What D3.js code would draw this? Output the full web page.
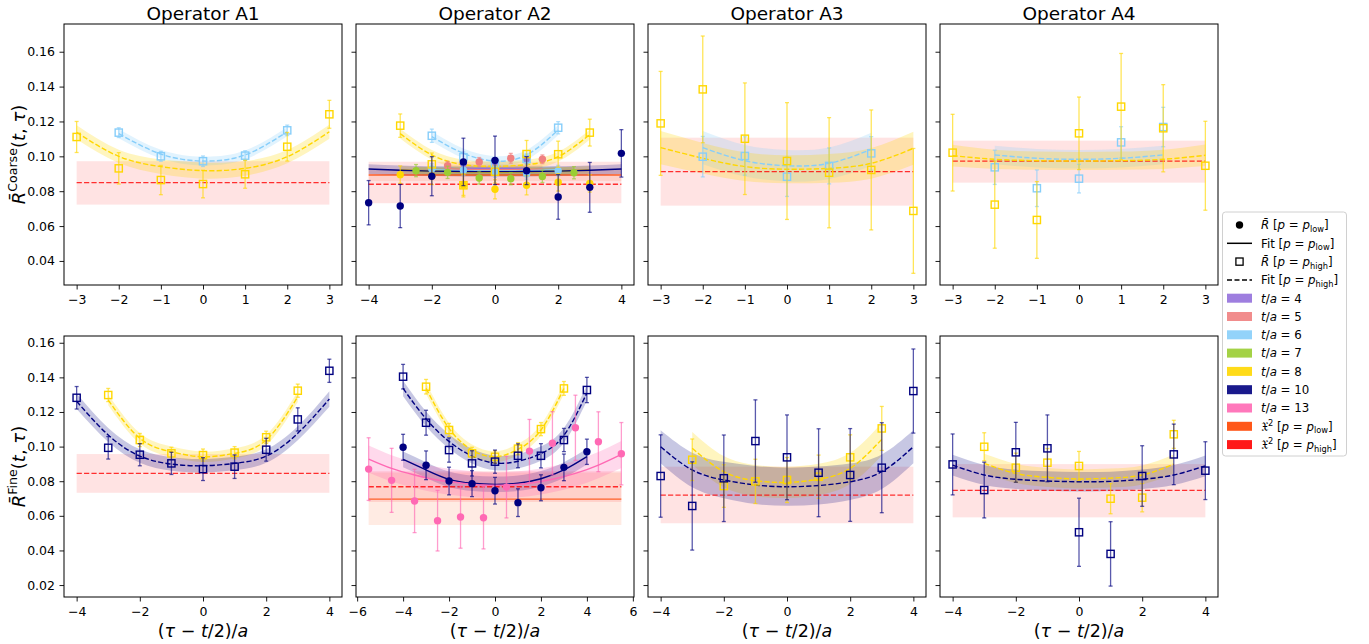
<!DOCTYPE html>
<html>
<head>
<meta charset="utf-8">
<script src="https://cdn.jsdelivr.net/npm/d3@7"></script>
<style>
  body { margin: 0; background: #fff; }
  text { font-family: "DejaVu Sans", sans-serif; fill: #000; }
</style>
</head>
<body>
<script>
// ---------------- τ grids ((τ - t/2)/a) ----------------
const tau1  = [-1, 0, 1];
const tau2  = [-2, -1, 0, 1, 2];
const tau3  = [-3, -2, -1, 0, 1, 2, 3];
const tau4  = [-4, -3, -2, -1, 0, 1, 2, 3, 4];
const tauH1 = [-1.5, -0.5, 0.5, 1.5];
const tauH2 = [-2.5, -1.5, -0.5, 0.5, 1.5, 2.5];
const tauH5 = [-5.5, -4.5, -3.5, -2.5, -1.5, -0.5, 0.5, 1.5, 2.5, 3.5, 4.5, 5.5];

// ---------------- tick labels & titles ----------------
const operators    = ["Operator A1", "Operator A2", "Operator A3", "Operator A4"];
const xTicksUnit3  = [-3, -2, -1, 0, 1, 2, 3];
const xTicksEven4  = [-4, -2, 0, 2, 4];
const xTicksEven6  = [-6, -4, -2, 0, 2, 4, 6];
const yTicksCoarse = [0.04, 0.06, 0.08, 0.10, 0.12, 0.14, 0.16];
const yTicksFine   = [0.02, 0.04, 0.06, 0.08, 0.10, 0.12, 0.14, 0.16];
const tValues      = [4, 5, 6, 7, 8, 10, 13];

// ================= Coarse ensemble =================
// --- A1 ---
const cA1_t6_high     = [0.1136, 0.1000, 0.0972, 0.1004, 0.1149];
const cA1_t6_high_err = [0.0028, 0.0028, 0.0030, 0.0028, 0.0030];
const cA1_t8_high     = [0.1111, 0.0931, 0.0864, 0.0841, 0.0897, 0.1055, 0.1241];
const cA1_t8_high_err = [0.0089, 0.0090, 0.0084, 0.0079, 0.0080, 0.0082, 0.0080];
const cA1_t6_fit      = [0.1130, 0.1013, 0.0973, 0.1008, 0.1141];
const cA1_t6_fit_hw   = [0.0026, 0.0025, 0.0025, 0.0025, 0.0026];
const cA1_t8_fit      = [0.1138, 0.1000, 0.0941, 0.0918, 0.0931, 0.0998, 0.1141];
const cA1_t8_fit_hw   = [0.0040, 0.0038, 0.0042, 0.0046, 0.0042, 0.0038, 0.0040];
const cA1_chi2_high   = [0.0849, 0.0723, 0.0972];   // central, lower, upper

// --- A2 ---
const cA2_t4_low      = [0.0962, 0.0970, 0.0983];
const cA2_t4_low_err  = [0.0020, 0.0020, 0.0022];
const cA2_t5_low      = [0.0946, 0.0968, 0.0989, 0.0983];
const cA2_t5_low_err  = [0.0025, 0.0025, 0.0028, 0.0025];
const cA2_t6_low      = [0.0927, 0.0920, 0.0910, 0.0899, 0.0918];
const cA2_t6_low_err  = [0.0030, 0.0030, 0.0030, 0.0030, 0.0030];
const cA2_t7_low      = [0.0918, 0.0908, 0.0876, 0.0872, 0.0885, 0.0906];
const cA2_t7_low_err  = [0.0035, 0.0035, 0.0035, 0.0035, 0.0035, 0.0035];
const cA2_t8_low      = [0.0895, 0.0888, 0.0836, 0.0811, 0.0834, 0.0851, 0.0845];
const cA2_t8_low_err  = [0.0050, 0.0050, 0.0060, 0.0055, 0.0055, 0.0050, 0.0050];
const cA2_t10_low     = [0.0734, 0.0715, 0.0886, 0.0968, 0.0977, 0.0918, 0.0767, 0.0822, 0.1017];
const cA2_t10_low_err = [0.0127, 0.0124, 0.0112, 0.0136, 0.0139, 0.0080, 0.0128, 0.0143, 0.0136];
const cA2_t6_high     = [0.1118, 0.0995, 0.0958, 0.0985, 0.1164];
const cA2_t6_high_err = [0.0038, 0.0030, 0.0030, 0.0030, 0.0035];
const cA2_t8_high     = [0.1176, 0.0954, 0.0834, 0.0912, 0.1013, 0.1012, 0.1136];
const cA2_t8_high_err = [0.0067, 0.0065, 0.0067, 0.0065, 0.0078, 0.0075, 0.0077];
const cA2_t4_fit      = [0.0932, 0.0930, 0.0932];
const cA2_t5_fit      = [0.0927, 0.0924, 0.0924, 0.0927];
const cA2_t6_lfit     = [0.0923, 0.0918, 0.0916, 0.0918, 0.0923];
const cA2_t7_fit      = [0.0918, 0.0914, 0.0912, 0.0912, 0.0914, 0.0918];
const cA2_t8_lfit     = [0.0922, 0.0915, 0.0911, 0.0910, 0.0911, 0.0915, 0.0922];
const cA2_t10_fit     = [0.0927, 0.0920, 0.0915, 0.0913, 0.0912, 0.0913, 0.0915, 0.0920, 0.0927];
const cA2_t6_hfit     = [0.1113, 0.1017, 0.0973, 0.1008, 0.1151];
const cA2_t8_hfit     = [0.1130, 0.1008, 0.0952, 0.0943, 0.0952, 0.0998, 0.1125];
const cA2_chi2_low    = [0.0893, 0.0858, 0.0928];
const cA2_chi2_high   = [0.0840, 0.0731, 0.0969];

// --- A3 ---
const cA3_t6_high     = [0.0998, 0.1002, 0.0883, 0.0945, 0.1017];
const cA3_t6_high_err = [0.0116, 0.0110, 0.0113, 0.0103, 0.0096];
const cA3_t8_high     = [0.1189, 0.1384, 0.1101, 0.0973, 0.0906, 0.0922, 0.0687];
const cA3_t8_high_err = [0.0298, 0.0306, 0.0320, 0.0335, 0.0316, 0.0344, 0.0358];
const cA3_t6_fit      = [0.1050, 0.0975, 0.0946, 0.0960, 0.1040];
const cA3_t6_fit_hw   = [0.0095, 0.0090, 0.0090, 0.0090, 0.0095];
const cA3_t8_fit      = [0.1050, 0.0989, 0.0941, 0.0926, 0.0931, 0.0960, 0.1046];
const cA3_t8_fit_hw   = [0.0095, 0.0088, 0.0082, 0.0080, 0.0082, 0.0088, 0.0095];
const cA3_chi2_high   = [0.0912, 0.0717, 0.1107];

// --- A4 ---
const cA4_t6_high     = [0.0937, 0.0817, 0.0872, 0.1080, 0.1168];
const cA4_t6_high_err = [0.0098, 0.0105, 0.0082, 0.0090, 0.0113];
const cA4_t8_high     = [0.1021, 0.0723, 0.0635, 0.1132, 0.1285, 0.1161, 0.0946];
const cA4_t8_high_err = [0.0220, 0.0250, 0.0220, 0.0208, 0.0305, 0.0250, 0.0255];
const cA4_t6_fit      = [0.1008, 0.0989, 0.0983, 0.0989, 0.1008];
const cA4_t6_fit_hw   = [0.0053, 0.0053, 0.0053, 0.0053, 0.0053];
const cA4_t8_fit      = [0.1004, 0.0983, 0.0975, 0.0973, 0.0975, 0.0983, 0.1006];
const cA4_t8_fit_hw   = [0.0062, 0.0055, 0.0052, 0.0052, 0.0052, 0.0055, 0.0062];
const cA4_chi2_high   = [0.0972, 0.0849, 0.1090];

// ================= Fine ensemble =================
// --- A1 ---
const fA1_t8_high      = [0.1298, 0.1038, 0.0961, 0.0951, 0.0965, 0.1054, 0.1323];
const fA1_t8_high_err  = [0.0038, 0.0038, 0.0035, 0.0035, 0.0035, 0.0035, 0.0038];
const fA1_t10_high     = [0.1282, 0.0993, 0.0953, 0.0903, 0.0870, 0.0884, 0.0982, 0.1157, 0.1438];
const fA1_t10_high_err = [0.0065, 0.0065, 0.0064, 0.0064, 0.0066, 0.0068, 0.0066, 0.0067, 0.0067];
const fA1_t8_fit       = [0.1269, 0.1048, 0.0970, 0.0941, 0.0961, 0.1038, 0.1288];
const fA1_t8_fit_hw    = [0.0030, 0.0030, 0.0030, 0.0030, 0.0030, 0.0030, 0.0030];
const fA1_t10_fit      = [0.1262, 0.1067, 0.0945, 0.0899, 0.0889, 0.0903, 0.0945, 0.1077, 0.1275];
const fA1_t10_fit_hw   = [0.0045, 0.0040, 0.0039, 0.0039, 0.0039, 0.0039, 0.0039, 0.0040, 0.0045];
const fA1_chi2_high    = [0.0845, 0.0733, 0.0957];

// --- A2 ---
const fA2_t10_low      = [0.0996, 0.0892, 0.0801, 0.0786, 0.0745, 0.0676, 0.0762, 0.0880, 0.0970];
const fA2_t10_low_err  = [0.0075, 0.0083, 0.0080, 0.0075, 0.0077, 0.0080, 0.0075, 0.0077, 0.0073];
const fA2_t13_low      = [0.0870, 0.0805, 0.0686, 0.0572, 0.0593, 0.0589, 0.0766, 0.0974, 0.1019, 0.1109, 0.1028, 0.0959];
const fA2_t13_low_err  = [0.0181, 0.0185, 0.0183, 0.0175, 0.0180, 0.0180, 0.0178, 0.0183, 0.0183, 0.0188, 0.0173, 0.0180];
const fA2_t8_high      = [0.1346, 0.1096, 0.0961, 0.0941, 0.0988, 0.1101, 0.1336];
const fA2_t8_high_err  = [0.0042, 0.0038, 0.0035, 0.0035, 0.0035, 0.0038, 0.0040];
const fA2_t10_high     = [0.1404, 0.1138, 0.0980, 0.0903, 0.0913, 0.0947, 0.0947, 0.1038, 0.1327];
const fA2_t10_high_err = [0.0071, 0.0072, 0.0070, 0.0073, 0.0067, 0.0069, 0.0070, 0.0067, 0.0073];
const fA2_t10_lfit     = [0.0926, 0.0865, 0.0811, 0.0788, 0.0782, 0.0788, 0.0814, 0.0865, 0.0942];
const fA2_t10_lfit_hw  = [0.0045, 0.0045, 0.0045, 0.0045, 0.0045, 0.0045, 0.0045, 0.0045, 0.0045];
const fA2_t13_fit      = [0.0928, 0.0874, 0.0836, 0.0807, 0.0790, 0.0778, 0.0778, 0.0788, 0.0811, 0.0845, 0.0893, 0.0955];
const fA2_t13_fit_hw   = [0.0078, 0.0076, 0.0075, 0.0075, 0.0075, 0.0075, 0.0075, 0.0075, 0.0075, 0.0075, 0.0076, 0.0078];
const fA2_t8_hfit      = [0.1336, 0.1105, 0.0980, 0.0941, 0.0984, 0.1096, 0.1336];
const fA2_t8_hfit_hw   = [0.0032, 0.0032, 0.0032, 0.0032, 0.0032, 0.0032, 0.0032];
const fA2_t10_hfit     = [0.1336, 0.1160, 0.1030, 0.0945, 0.0905, 0.0915, 0.0960, 0.1065, 0.1310];
const fA2_t10_hfit_hw  = [0.0045, 0.0043, 0.0042, 0.0042, 0.0042, 0.0042, 0.0042, 0.0043, 0.0045];
const fA2_chi2_low     = [0.0697, 0.0547, 0.0850];
const fA2_chi2_high    = [0.0768, 0.0680, 0.0858];

// --- A3 ---
const fA3_t8_high      = [0.0924, 0.0772, 0.0799, 0.0807, 0.0826, 0.0938, 0.1105];
const fA3_t8_high_err  = [0.0120, 0.0123, 0.0128, 0.0130, 0.0125, 0.0130, 0.0127];
const fA3_t10_high     = [0.0830, 0.0657, 0.0817, 0.1032, 0.0938, 0.0849, 0.0836, 0.0878, 0.1321];
const fA3_t10_high_err = [0.0238, 0.0255, 0.0250, 0.0238, 0.0245, 0.0254, 0.0268, 0.0260, 0.0243];
const fA3_t8_fit       = [0.0990, 0.0855, 0.0803, 0.0793, 0.0811, 0.0874, 0.1042];
const fA3_t8_fit_hw    = [0.0095, 0.0090, 0.0090, 0.0090, 0.0090, 0.0090, 0.0095];
const fA3_t10_fit      = [0.0999, 0.0865, 0.0807, 0.0778, 0.0768, 0.0775, 0.0797, 0.0855, 0.0999];
const fA3_t10_fit_hw   = [0.0095, 0.0100, 0.0105, 0.0110, 0.0110, 0.0110, 0.0105, 0.0100, 0.0095];
const fA3_chi2_high    = [0.0720, 0.0557, 0.0884];

// --- A4 ---
const fA4_t8_high      = [0.0999, 0.0878, 0.0907, 0.0888, 0.0699, 0.0705, 0.1071];
const fA4_t8_high_err  = [0.0081, 0.0084, 0.0082, 0.0084, 0.0087, 0.0082, 0.0081];
const fA4_t10_high     = [0.0897, 0.0749, 0.0967, 0.0990, 0.0505, 0.0380, 0.0830, 0.0955, 0.0861];
const fA4_t10_high_err = [0.0176, 0.0161, 0.0173, 0.0193, 0.0197, 0.0186, 0.0175, 0.0175, 0.0167];
const fA4_t8_fit       = [0.0903, 0.0845, 0.0822, 0.0813, 0.0818, 0.0836, 0.0899];
const fA4_t8_fit_hw    = [0.0055, 0.0055, 0.0055, 0.0055, 0.0055, 0.0055, 0.0055];
const fA4_t10_fit      = [0.0893, 0.0836, 0.0811, 0.0801, 0.0797, 0.0799, 0.0811, 0.0836, 0.0889];
const fA4_t10_fit_hw   = [0.0060, 0.0058, 0.0056, 0.0056, 0.0056, 0.0056, 0.0056, 0.0058, 0.0060];
const fA4_chi2_high    = [0.0747, 0.0591, 0.0899];

// ---------------- styling ----------------
const tColor = { 4: "#9370db", 5: "#f08080", 6: "#87cefa", 7: "#9acd32", 8: "#ffd700", 10: "#000080", 13: "#ff69b4" };
const chi2Color = { low: "#ff4500", high: "#ff0000" };
const DASH = "5.2,2.2";

// ---------------- figure layout ----------------
const W = 1369, H = 644;
const colX = [64, 356, 648, 940], PW = 278;
const rowY = [24, 336], PH = 261;
const yDomain = [[0.0262, 0.1759], [0.0131, 0.1639]];

const svg = d3.select("body").append("svg").attr("width", W).attr("height", H);

// helper: series objects built from the arrays above
const P  = (tau, val, err, t, kind) => ({ tau, val, err, t, kind });
const F  = (tau, val, hw, t, kind) => ({ tau, val, hw, t, kind });
const C  = (x0, x1, v, kind) => ({ x0, x1, v, kind });
const flat = (n, v) => Array.from({ length: n }, () => v);

const panels = [
  { row: 0, col: 0, xdom: [-3.3, 3.3], xticks: xTicksUnit3,
    chi2: [C(-3, 3, cA1_chi2_high, "high")],
    fits: [F(tau2, cA1_t6_fit, cA1_t6_fit_hw, 6, "high"), F(tau3, cA1_t8_fit, cA1_t8_fit_hw, 8, "high")],
    pts:  [P(tau2, cA1_t6_high, cA1_t6_high_err, 6, "high"), P(tau3, cA1_t8_high, cA1_t8_high_err, 8, "high")] },
  { row: 0, col: 1, xdom: [-4.4, 4.4], xticks: xTicksEven4,
    chi2: [C(-4, 4, cA2_chi2_low, "low"), C(-4, 4, cA2_chi2_high, "high")],
    fits: [F(tau1, cA2_t4_fit, flat(3, 0.0022), 4, "low"),
           F(tauH1, cA2_t5_fit, flat(4, 0.0022), 5, "low"),
           F(tau2, cA2_t6_lfit, flat(5, 0.0022), 6, "low"),
           F(tauH2, cA2_t7_fit, flat(6, 0.0022), 7, "low"),
           F(tau3, cA2_t8_lfit, flat(7, 0.0022), 8, "low"),
           F(tau4, cA2_t10_fit, flat(9, 0.0028), 10, "low"),
           F(tau2, cA2_t6_hfit, flat(5, 0.0028), 6, "high"),
           F(tau3, cA2_t8_hfit, flat(7, 0.0028), 8, "high")],
    pts:  [P(tau1, cA2_t4_low, cA2_t4_low_err, 4, "low"),
           P(tauH1, cA2_t5_low, cA2_t5_low_err, 5, "low"),
           P(tau2, cA2_t6_low, cA2_t6_low_err, 6, "low"),
           P(tau2, cA2_t6_high, cA2_t6_high_err, 6, "high"),
           P(tauH2, cA2_t7_low, cA2_t7_low_err, 7, "low"),
           P(tau3, cA2_t8_low, cA2_t8_low_err, 8, "low"),
           P(tau3, cA2_t8_high, cA2_t8_high_err, 8, "high"),
           P(tau4, cA2_t10_low, cA2_t10_low_err, 10, "low")] },
  { row: 0, col: 2, xdom: [-3.3, 3.3], xticks: xTicksUnit3,
    chi2: [C(-3, 3, cA3_chi2_high, "high")],
    fits: [F(tau2, cA3_t6_fit, cA3_t6_fit_hw, 6, "high"), F(tau3, cA3_t8_fit, cA3_t8_fit_hw, 8, "high")],
    pts:  [P(tau2, cA3_t6_high, cA3_t6_high_err, 6, "high"), P(tau3, cA3_t8_high, cA3_t8_high_err, 8, "high")] },
  { row: 0, col: 3, xdom: [-3.3, 3.3], xticks: xTicksUnit3,
    chi2: [C(-3, 3, cA4_chi2_high, "high")],
    fits: [F(tau2, cA4_t6_fit, cA4_t6_fit_hw, 6, "high"), F(tau3, cA4_t8_fit, cA4_t8_fit_hw, 8, "high")],
    pts:  [P(tau2, cA4_t6_high, cA4_t6_high_err, 6, "high"), P(tau3, cA4_t8_high, cA4_t8_high_err, 8, "high")] },
  { row: 1, col: 0, xdom: [-4.4, 4.4], xticks: xTicksEven4,
    chi2: [C(-4, 4, fA1_chi2_high, "high")],
    fits: [F(tau3, fA1_t8_fit, fA1_t8_fit_hw, 8, "high"), F(tau4, fA1_t10_fit, fA1_t10_fit_hw, 10, "high")],
    pts:  [P(tau3, fA1_t8_high, fA1_t8_high_err, 8, "high"), P(tau4, fA1_t10_high, fA1_t10_high_err, 10, "high")] },
  { row: 1, col: 1, xdom: [-6.05, 6.05], xticks: xTicksEven6,
    chi2: [C(-5.5, 5.5, fA2_chi2_low, "low"), C(-5.5, 5.5, fA2_chi2_high, "high")],
    fits: [F(tau3, fA2_t8_hfit, fA2_t8_hfit_hw, 8, "high"),
           F(tau4, fA2_t10_hfit, fA2_t10_hfit_hw, 10, "high"),
           F(tau4, fA2_t10_lfit, fA2_t10_lfit_hw, 10, "low"),
           F(tauH5, fA2_t13_fit, fA2_t13_fit_hw, 13, "low")],
    pts:  [P(tau3, fA2_t8_high, fA2_t8_high_err, 8, "high"),
           P(tau4, fA2_t10_low, fA2_t10_low_err, 10, "low"),
           P(tau4, fA2_t10_high, fA2_t10_high_err, 10, "high"),
           P(tauH5, fA2_t13_low, fA2_t13_low_err, 13, "low")] },
  { row: 1, col: 2, xdom: [-4.4, 4.4], xticks: xTicksEven4,
    chi2: [C(-4, 4, fA3_chi2_high, "high")],
    fits: [F(tau3, fA3_t8_fit, fA3_t8_fit_hw, 8, "high"), F(tau4, fA3_t10_fit, fA3_t10_fit_hw, 10, "high")],
    pts:  [P(tau3, fA3_t8_high, fA3_t8_high_err, 8, "high"), P(tau4, fA3_t10_high, fA3_t10_high_err, 10, "high")] },
  { row: 1, col: 3, xdom: [-4.4, 4.4], xticks: xTicksEven4,
    chi2: [C(-4, 4, fA4_chi2_high, "high")],
    fits: [F(tau3, fA4_t8_fit, fA4_t8_fit_hw, 8, "high"), F(tau4, fA4_t10_fit, fA4_t10_fit_hw, 10, "high")],
    pts:  [P(tau3, fA4_t8_high, fA4_t8_high_err, 8, "high"), P(tau4, fA4_t10_high, fA4_t10_high_err, 10, "high")] }
];

// ---------------- mathtext-like labels ----------------
function rich(sel, parts, fs) {
  let shift = 0;
  parts.forEach(([t, s]) => {
    const ts = sel.append("tspan").text(t);
    let target = 0;
    if (s === "sub") target = 0.24 * fs;
    if (s === "sup") target = -0.42 * fs;
    if (target - shift !== 0) ts.attr("dy", target - shift);
    shift = target;
    if (s === "i") ts.attr("font-style", "italic");
    if (s === "sub" || s === "sup") ts.attr("font-size", fs * 0.7);
  });
}
const minus = d => (d < 0 ? "\u2212" + Math.abs(d) : String(d));

// ---------------- panels ----------------
panels.forEach(p => {
  const x0 = colX[p.col], y0 = rowY[p.row];
  const x = d3.scaleLinear().domain(p.xdom).range([x0, x0 + PW]);
  const y = d3.scaleLinear().domain(yDomain[p.row]).range([y0 + PH, y0]);
  const g = svg.append("g");

  // χ² plateau bands
  p.chi2.forEach(c => {
    g.append("rect")
      .attr("x", x(c.x0)).attr("width", x(c.x1) - x(c.x0))
      .attr("y", y(c.v[2])).attr("height", y(c.v[1]) - y(c.v[2]))
      .attr("fill", chi2Color[c.kind]).attr("fill-opacity", 0.11);
  });

  // fit error bands
  const area = d3.area().x(d => x(d.t)).y0(d => y(d.v - d.h)).y1(d => y(d.v + d.h)).curve(d3.curveNatural);
  const line = d3.line().x(d => x(d.t)).y(d => y(d.v)).curve(d3.curveNatural);
  p.fits.forEach(f => {
    const pts = f.tau.map((t, i) => ({ t, v: f.val[i], h: f.hw[i] }));
    g.append("path").datum(pts).attr("d", area)
      .attr("fill", tColor[f.t]).attr("fill-opacity", f.t === 10 ? 0.22 : 0.25);
  });

  // χ² central values
  p.chi2.forEach(c => {
    g.append("line")
      .attr("x1", x(c.x0)).attr("x2", x(c.x1)).attr("y1", y(c.v[0])).attr("y2", y(c.v[0]))
      .attr("stroke", chi2Color[c.kind]).attr("stroke-opacity", 0.8).attr("stroke-width", 1.3)
      .attr("stroke-dasharray", c.kind === "high" ? DASH : null);
  });

  // fit central curves
  p.fits.forEach(f => {
    const pts = f.tau.map((t, i) => ({ t, v: f.val[i] }));
    g.append("path").datum(pts).attr("d", line)
      .attr("fill", "none").attr("stroke", tColor[f.t]).attr("stroke-width", 1.4)
      .attr("stroke-dasharray", f.kind === "high" ? DASH : null);
  });

  // data points with error bars
  p.pts.forEach(s => {
    const col = tColor[s.t];
    const d = s.tau.map((t, i) => ({ t, v: s.val[i], e: s.err[i] }));
    const eg = g.append("g").attr("stroke", col).attr("stroke-width", 1.3).attr("stroke-opacity", 0.65);
    eg.selectAll("line.bar").data(d).join("line")
      .attr("x1", q => x(q.t)).attr("x2", q => x(q.t))
      .attr("y1", q => y(q.v - q.e)).attr("y2", q => y(q.v + q.e));
    eg.selectAll("line.capt").data(d).join("line")
      .attr("x1", q => x(q.t) - 2).attr("x2", q => x(q.t) + 2)
      .attr("y1", q => y(q.v + q.e)).attr("y2", q => y(q.v + q.e));
    eg.selectAll("line.capb").data(d).join("line")
      .attr("x1", q => x(q.t) - 2).attr("x2", q => x(q.t) + 2)
      .attr("y1", q => y(q.v - q.e)).attr("y2", q => y(q.v - q.e));
    if (s.kind === "low") {
      g.selectAll(null).data(d).join("circle")
        .attr("cx", q => x(q.t)).attr("cy", q => y(q.v)).attr("r", 3.7).attr("fill", col);
    } else {
      g.selectAll(null).data(d).join("rect")
        .attr("x", q => x(q.t) - 3.6).attr("y", q => y(q.v) - 3.6)
        .attr("width", 7.2).attr("height", 7.2)
        .attr("fill", "none").attr("stroke", col).attr("stroke-width", 1.4);
    }
  });

  // axes
  const xa = d3.axisBottom(x).tickValues(p.xticks).tickSize(4.5).tickPadding(5.5).tickFormat(minus);
  const ya = d3.axisLeft(y).tickValues(p.row === 0 ? yTicksCoarse : yTicksFine).tickSize(4.5).tickPadding(4.5)
    .tickFormat(p.col === 0 ? d3.format(".2f") : () => "");
  const gx = svg.append("g").attr("transform", `translate(0,${y0 + PH})`).call(xa);
  const gy = svg.append("g").attr("transform", `translate(${x0},0)`).call(ya);
  [gx, gy].forEach(a => {
    a.select(".domain").remove();
    a.selectAll("text").attr("font-size", 12.5).attr("font-family", "DejaVu Sans").attr("fill", "#000");
    a.selectAll("line").attr("stroke", "#000").attr("stroke-width", 0.9);
  });

  svg.append("rect").attr("x", x0).attr("y", y0).attr("width", PW).attr("height", PH)
    .attr("fill", "none").attr("stroke", "#000").attr("stroke-width", 1);

  if (p.row === 0) {
    svg.append("text").attr("x", x0 + PW / 2).attr("y", 20).attr("text-anchor", "middle")
      .attr("font-size", 18.5).text(operators[p.col]);
  } else {
    rich(svg.append("text").attr("x", x0 + PW / 2).attr("y", 636.5).attr("text-anchor", "middle").attr("font-size", 17.5),
      [["(", ""], ["τ", "i"], [" \u2212 ", ""], ["t", "i"], ["/2)/", ""], ["a", "i"]], 17.5);
  }
});

// y-axis labels
[["Coarse", 0], ["Fine", 1]].forEach(([lab, r]) => {
  const t = svg.append("text")
    .attr("transform", `translate(25,${rowY[r] + PH / 2}) rotate(-90)`)
    .attr("text-anchor", "middle").attr("font-size", 18);
  rich(t, [["R\u0304", "i"], [lab, "sup"], ["(", ""], ["t", "i"], [", ", ""], ["τ", "i"], [")", ""]], 18);
});

// ---------------- legend ----------------
const lg = svg.append("g");
const LX = 1222.5, LY = 212, rowH = 18.3, FS = 11.8;
lg.append("rect").attr("x", LX).attr("y", LY).attr("width", 124).attr("height", 244)
  .attr("rx", 3).attr("fill", "#fff").attr("stroke", "#d0d0d0").attr("stroke-width", 1);
const hx0 = 1227, hx1 = 1252, hc = (hx0 + hx1) / 2, tx = 1261;
const plow  = [["p", "i"], [" = ", ""], ["p", "i"], ["low", "sub"], ["]", ""]];
const phigh = [["p", "i"], [" = ", ""], ["p", "i"], ["high", "sub"], ["]", ""]];
const legendItems = [
  { h: "dot",    label: [["R\u0304", "i"], [" [", ""]].concat(plow) },
  { h: "solid",  label: [["Fit  [", ""]].concat(plow) },
  { h: "square", label: [["R\u0304", "i"], [" [", ""]].concat(phigh) },
  { h: "dash",   label: [["Fit  [", ""]].concat(phigh) },
  ...tValues.map(t => ({ h: "patch", color: tColor[t], label: [["t", "i"], ["/", ""], ["a", "i"], [" = " + t, ""]] })),
  { h: "patch", color: chi2Color.low,  label: [["\u{1D51B}", ""], ["2", "sup"], [" [", ""]].concat(plow) },
  { h: "patch", color: chi2Color.high, label: [["\u{1D51B}", ""], ["2", "sup"], [" [", ""]].concat(phigh) }
];
legendItems.forEach((it, i) => {
  const cy = LY + 13 + i * rowH;
  if (it.h === "dot") lg.append("circle").attr("cx", hc).attr("cy", cy).attr("r", 3.7).attr("fill", "#000");
  if (it.h === "square") lg.append("rect").attr("x", hc - 3.6).attr("y", cy - 3.6).attr("width", 7.2).attr("height", 7.2)
    .attr("fill", "none").attr("stroke", "#000").attr("stroke-width", 1.3);
  if (it.h === "solid" || it.h === "dash") lg.append("line").attr("x1", hx0).attr("x2", hx1).attr("y1", cy).attr("y2", cy)
    .attr("stroke", "#000").attr("stroke-width", 1.5).attr("stroke-dasharray", it.h === "dash" ? "5,2.5" : null);
  if (it.h === "patch") lg.append("rect").attr("x", hx0).attr("y", cy - 4.5).attr("width", hx1 - hx0).attr("height", 9)
    .attr("fill", it.color).attr("fill-opacity", 0.9);
  rich(lg.append("text").attr("x", tx).attr("y", cy + 4.3).attr("font-size", FS), it.label, FS);
});
</script>
</body>
</html>
